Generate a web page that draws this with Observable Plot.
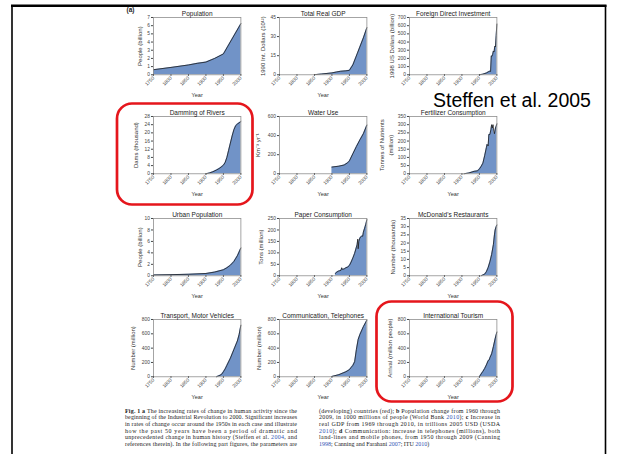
<!DOCTYPE html>
<html>
<head>
<meta charset="utf-8">
<script src="https://cdn.jsdelivr.net/npm/d3@7"></script>
<script src="https://cdn.jsdelivr.net/npm/@observablehq/plot@0.6"></script>
<style>
  html, body { margin: 0; padding: 0; background: #fff; }
  #page { position: relative; width: 617px; height: 454px; overflow: hidden; background: #fff; }
  .panel { position: absolute; }
  .panel svg { overflow: visible; }
</style>
</head>
<body>
<div id="page"></div>
<script>
// ---- data -------------------------------------------------------------
const xTicks = [1750, 1800, 1850, 1900, 1950, 2000];

const titles = [
  "Population", "Total Real GDP", "Foreign Direct Investment",
  "Damming of Rivers", "Water Use", "Fertilizer Consumption",
  "Urban Population", "Paper Consumption", "McDonald's Restaurants",
  "Transport, Motor Vehicles", "Communication, Telephones", "International Tourism"
];

const yLabels = [
  "People (billion)", "1990 Int. Dollars (10¹²)", "1998 US Dollars (billion)",
  "Dams (thousand)", "Km⁻³ yr⁻¹", "Tonnes of Nutrients\n(million)",
  "People (billion)", "Tons (million)", "Number (thousands)",
  "Number (million)", "Number (million)", "Arrival (million people)"
];

const yTicks = [
  [0, 1, 2, 3, 4, 5, 6, 7],
  [0, 15, 30, 45],
  [0, 100, 200, 300, 400, 500, 600, 700],
  [0, 4, 8, 12, 16, 20, 24, 28],
  [0, 200, 400, 600],
  [0, 50, 100, 150, 200, 250, 300, 350],
  [0, 2, 4, 6, 8, 10],
  [0, 50, 100, 150, 200, 250],
  [0, 5, 10, 15, 20, 25, 30, 35],
  [0, 200, 400, 600, 800],
  [0, 200, 400, 600, 800],
  [0, 200, 400, 600, 800]
];

const populationYears  = [1750, 1800, 1850, 1875, 1900, 1925, 1950, 2000];
const populationValues = [0.62, 0.9, 1.2, 1.4, 1.55, 2.0, 2.55, 6.25];

const gdpYears  = [1850, 1870, 1900, 1913, 1925, 1940, 1950, 1960, 1973, 1990, 2000];
const gdpValues = [0.1, 0.6, 1.5, 2.2, 2.8, 3.1, 3.5, 7.8, 17, 29, 37];

const fdiYears  = [1950, 1960, 1970, 1975, 1980, 1982, 1984, 1986, 1988, 1990, 1992, 1994, 1996, 1998, 2000];
const fdiValues = [0, 8, 22, 35, 45, 40, 230, 225, 250, 290, 280, 350, 340, 480, 620];

const damYears  = [1900, 1910, 1920, 1930, 1940, 1950, 1955, 1960, 1965, 1970, 1975, 1980, 1985, 1990, 2000];
const damValues = [0, 0.4, 1, 1.8, 2.8, 4.2, 5.5, 8, 11.5, 15, 18.5, 21.5, 23.5, 24.3, 25.5];

const waterYears  = [1900, 1920, 1935, 1945, 1950, 1960, 1970, 1980, 1990, 2000];
const waterValues = [70, 80, 92, 115, 135, 210, 285, 355, 420, 510];

const fertilizerYears  = [1906, 1920, 1935, 1945, 1950, 1955, 1960, 1965, 1970, 1972, 1975, 1977, 1980, 1983, 1985, 1987, 1989, 1991, 1993, 1996, 1998, 2000];
const fertilizerValues = [0, 5, 15, 18, 30, 45, 65, 110, 160, 180, 170, 240, 240, 270, 300, 280, 300, 260, 245, 280, 290, 305];

const urbanYears  = [1750, 1800, 1850, 1900, 1925, 1950, 1960, 1970, 1980, 1990, 2000];
const urbanValues = [0.15, 0.2, 0.27, 0.4, 0.65, 1.05, 1.4, 1.85, 2.5, 3.5, 4.85];

const paperYears  = [1910, 1913, 1918, 1922, 1926, 1928, 1930, 1935, 1940, 1945, 1950, 1955, 1960, 1965, 1970, 1972, 1974, 1975, 1977, 1980, 1983, 1986, 1988, 1990, 1993, 1995, 1997, 2000];
const paperValues = [10, 15, 20, 22, 24, 35, 28, 30, 35, 38, 45, 60, 78, 98, 125, 135, 160, 118, 150, 165, 170, 175, 172, 190, 205, 215, 225, 245];

const mcdonaldsYears  = [1955, 1960, 1965, 1970, 1975, 1980, 1985, 1990, 1993, 1995, 1998, 2000];
const mcdonaldsValues = [0, 0.5, 1, 2.5, 5, 8.5, 13, 19, 25, 28, 30, 31];

const vehicleYears  = [1930, 1940, 1945, 1950, 1955, 1960, 1970, 1980, 1990, 1995, 2000];
const vehicleValues = [0, 20, 35, 70, 110, 160, 260, 380, 500, 590, 720];

const telephoneYears  = [1900, 1920, 1940, 1950, 1955, 1960, 1965, 1970, 1975, 1980, 1990, 2000];
const telephoneValues = [5, 30, 70, 100, 130, 160, 210, 380, 520, 590, 700, 790];

const tourismYears  = [1950, 1955, 1960, 1965, 1970, 1975, 1978, 1980, 1985, 1990, 1995, 2000];
const tourismValues = [0, 40, 75, 115, 165, 225, 235, 265, 320, 420, 530, 625];

const seriesYears = [populationYears, gdpYears, fdiYears, damYears, waterYears, fertilizerYears,
  urbanYears, paperYears, mcdonaldsYears, vehicleYears, telephoneYears, tourismYears];
const seriesValues = [populationValues, gdpValues, fdiValues, damValues, waterValues, fertilizerValues,
  urbanValues, paperValues, mcdonaldsValues, vehicleValues, telephoneValues, tourismValues];

// ---- layout -----------------------------------------------------------
const FW = 87.4, FH = 57.3;             // inner plot frame size
const ML = 52, MT = 22, MR = 10, MB = 34;
const colLeft = [153.3, 279.3, 409.3];
const rowTop = [17.4, 116.3, 218.3, 319.3];
const labelDx = [-14.3, -17.6, -18.6, -18.3, -22.6, -24, -14, -19.3, -17.6, -21.6, -21, -20];
const SANS = "'Liberation Sans', Arial, Helvetica, sans-serif";
const AREA = "#7193c7";

const page = document.getElementById("page");

titles.forEach((title, i) => {
  const data = seriesYears[i].map((year, j) => ({year, value: seriesValues[i][j]}));
  const ticks = yTicks[i];
  const chart = Plot.plot({
    width: ML + FW + MR,
    height: MT + FH + MB,
    marginLeft: ML, marginTop: MT, marginRight: MR, marginBottom: MB,
    style: {background: "transparent", overflow: "visible", fontFamily: SANS, color: "#333"},
    x: {domain: [1750, 2000]},
    y: {domain: [ticks[0], ticks[ticks.length - 1]]},
    marks: [
      Plot.areaY(data, {x: "year", y: "value", fill: AREA}),
      Plot.lineY(data, {x: "year", y: "value", stroke: "#1d1d1d", strokeWidth: 0.8}),
      Plot.frame({stroke: "#8e8e8e", strokeWidth: 0.8}),
      Plot.axisY({ticks, tickSize: 2, tickPadding: 1.5, fontSize: 4.9, label: null, tickFormat: "d", color: "#444"}),
      Plot.axisX({ticks: xTicks, tickSize: 1.5, tickPadding: 1, tickRotate: -45, fontSize: 4.9, label: null, tickFormat: "d", color: "#444"}),
      Plot.text([title], {text: d => d, frameAnchor: "top", lineAnchor: "middle", textAnchor: "middle", dy: -4, fontSize: 6.5, fill: "#222"}),
      Plot.text(["Year"], {text: d => d, frameAnchor: "bottom", lineAnchor: "middle", textAnchor: "middle", dy: 20.5, fontSize: 5.6, fill: "#333"}),
      Plot.text([yLabels[i]], {text: d => d, frameAnchor: "left", lineAnchor: "middle", textAnchor: "middle", rotate: -90, dx: labelDx[i], fontSize: 6, lineHeight: 1.45, fill: "#333"})
    ]
  });
  const wrap = document.createElement("div");
  wrap.className = "panel";
  wrap.style.left = (colLeft[i % 3] - ML) + "px";
  wrap.style.top = (rowTop[Math.floor(i / 3)] - MT) + "px";
  wrap.appendChild(chart);
  page.appendChild(wrap);
});

// ---- slide overlay: border, highlights, citation, caption ---------------
const overlay = d3.select(page).append("svg")
  .attr("width", 617).attr("height", 454)
  .style("position", "absolute").style("left", "0px").style("top", "0px");

overlay.append("line").attr("x1", 11).attr("x2", 606.5).attr("y1", 5.8).attr("y2", 5.8)
  .attr("stroke", "#000").attr("stroke-width", 2.4);
overlay.append("line").attr("x1", 12).attr("x2", 12).attr("y1", 5).attr("y2", 460)
  .attr("stroke", "#000").attr("stroke-width", 1.6);
overlay.append("line").attr("x1", 605.5).attr("x2", 605.5).attr("y1", 5).attr("y2", 460)
  .attr("stroke", "#000").attr("stroke-width", 1.6);

overlay.append("text").attr("x", 126.5).attr("y", 12).attr("font-family", SANS)
  .attr("font-size", 6.5).attr("font-weight", "bold").attr("fill", "#222").text("(a)");

[[117, 103.5, 135.5, 101], [376.5, 301.5, 136, 100]].forEach(([x, y, w, h]) => {
  overlay.append("rect").attr("x", x).attr("y", y).attr("width", w).attr("height", h)
    .attr("rx", 15).attr("fill", "none").attr("stroke", "#e5161c").attr("stroke-width", 2.7);
});

// citation sits on its own white box over the panel beneath it
overlay.append("rect").attr("x", 430).attr("y", 87).attr("width", 170).attr("height", 22.5)
  .attr("fill", "#fff");
overlay.append("text").attr("x", 433).attr("y", 106.5).attr("font-family", SANS)
  .attr("font-size", 19.5).attr("fill", "#000").text("Steffen et al. 2005");

const leftLines = [
  [["Fig. 1", "b"], [" "], ["a", "b"], [" The increasing rates of change in human activity since the"]],
  [["beginning of the Industrial Revolution to 2000. Significant increases"]],
  [["in rates of change occur around the 1950s in each case and illustrate"]],
  [["how the past 50 years have been a period of dramatic and"]],
  [["unprecedented change in human history (Steffen et al. "], ["2004", "l"], [", and"]],
  [["references therein). In the following part figures, the parameters are"]]
];
const rightLines = [
  [["(developing) countries (red); "], ["b", "b"], [" Population change from 1960 through"]],
  [["2009, in 1000 millions of people (World Bank "], ["2010", "l"], ["); "], ["c", "b"], [" Increase in"]],
  [["real GDP from 1969 through 2010, in trillions 2005 USD (USDA"]],
  [["2010", "l"], ["); "], ["d", "b"], [" Communication: increase in telephones (millions), both"]],
  [["land-lines and mobile phones, from 1950 through 2009 (Canning"]],
  [["1998", "l"], ["; Canning and Farahani "], ["2007", "l"], ["; ITU "], ["2010", "l"], [")"]]
];

function caption(lines, x, width, lastJustified) {
  lines.forEach((segs, k) => {
    const t = overlay.append("text")
      .attr("x", x).attr("y", 412.6 + k * 6.72)
      .attr("font-family", "'Liberation Serif', 'Times New Roman', serif")
      .attr("font-size", 6).attr("fill", "#1a1a1a")
      .attr("xml:space", "preserve");
    if (k < lines.length - 1 || lastJustified) {
      t.attr("textLength", width).attr("lengthAdjust", "spacing");
    }
    segs.forEach(([s, st]) => {
      const ts = t.append("tspan").text(s);
      if (st === "b") ts.attr("font-weight", "bold");
      if (st === "l") ts.attr("fill", "#2f55b4");
    });
  });
}
caption(leftLines, 125, 172, true);
caption(rightLines, 319, 181, false);
</script>
</body>
</html>
